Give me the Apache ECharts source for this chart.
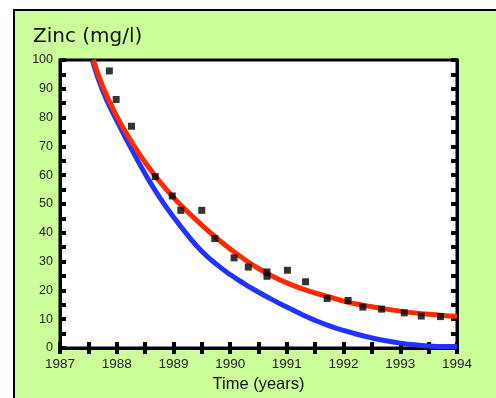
<!DOCTYPE html>
<html>
<head>
<meta charset="utf-8">
<script src="https://cdn.jsdelivr.net/npm/echarts@6/dist/echarts.min.js"></script>
<style>
html, body { margin: 0; padding: 0; background: #fff; }
#main { width: 496px; height: 398px; }
</style>
</head>
<body>
<div id="main"></div>
<script>
// measured zinc values
var measured = [
    [1987.87, 96.2], [1987.99, 86.3], [1988.26, 77.0], [1988.68, 59.5],
    [1988.98, 52.8], [1989.13, 47.8], [1989.50, 47.8], [1989.73, 38.0],
    [1990.07, 31.3], [1990.32, 28.1], [1990.65, 26.4], [1990.65, 24.9],
    [1991.01, 27.0], [1991.33, 23.0], [1991.71, 17.2], [1992.08, 16.5],
    [1992.34, 14.2], [1992.67, 13.5], [1993.07, 12.2], [1993.37, 11.1],
    [1993.71, 10.9]
];

// red curve
var redCurve = [
    [1987.59, 100], [1987.75, 91], [1988.0, 80.5], [1988.25, 72], [1988.5, 64.5],
    [1988.75, 58], [1989.0, 52.3], [1989.25, 47.3], [1989.5, 42.7], [1989.75, 38.4],
    [1990.0, 34.4], [1990.25, 30.8], [1990.5, 27.6], [1990.75, 24.9], [1991.0, 22.6],
    [1991.25, 20.7], [1991.5, 19.1], [1991.75, 17.7], [1992.0, 16.3], [1992.25, 15.2],
    [1992.5, 14.3], [1992.75, 13.5], [1993.0, 12.8], [1993.25, 12.2], [1993.5, 11.7],
    [1993.75, 11.3], [1994.0, 11.0]
];

// blue curve
var blueCurve = [
    [1987.57, 100], [1987.75, 89.5], [1988.0, 79], [1988.25, 69.5], [1988.5, 60.5],
    [1988.75, 52.5], [1989.0, 45.5], [1989.25, 39.2], [1989.5, 33.6], [1989.75, 29.2],
    [1990.0, 25.5], [1990.25, 22.3], [1990.5, 19.4], [1990.75, 16.7], [1991.0, 14.2],
    [1991.25, 11.8], [1991.5, 9.6], [1991.75, 7.7], [1992.0, 6.1], [1992.25, 4.7],
    [1992.5, 3.5], [1992.75, 2.5], [1993.0, 1.7], [1993.25, 1.1], [1993.5, 0.7],
    [1993.75, 0.5], [1994.0, 0.5]
];

var tickStyle = { color: '#000', width: 4 };

var myChart = echarts.init(document.getElementById('main'));
var option = {
    animation: false,
    graphic: [
        {
            type: 'rect',
            z: -10,
            shape: { x: 14, y: 10, width: 520, height: 420 },
            style: { fill: '#ccff99', stroke: '#000', lineWidth: 2 }
        }
    ],
    title: {
        text: 'Zinc (mg/l)',
        left: 28,
        top: 22,
        textStyle: { fontFamily: 'DejaVu Sans', fontSize: 20, fontWeight: 'normal', color: '#111' }
    },
    grid: {
        left: 60, right: 39, top: 60, bottom: 45,
        show: true,
        backgroundColor: '#fff',
        borderColor: '#000',
        borderWidth: 3
    },
    xAxis: [
        {
            type: 'value',
            min: 1987, max: 1994, interval: 1,
            name: 'Time (years)',
            nameLocation: 'middle',
            nameGap: 28,
            nameTextStyle: { fontFamily: 'Liberation Sans', fontSize: 16.5, color: '#111' },
            axisLine: { lineStyle: { color: '#000', width: 3 } },
            axisTick: { inside: true, length: 6, lineStyle: tickStyle },
            minorTick: { show: true, splitNumber: 2, length: 6, lineStyle: tickStyle },
            axisLabel: {
                fontFamily: 'Liberation Sans', fontSize: 13.5, color: '#222', margin: 9,
                formatter: function (v) { return String(v); }
            },
            splitLine: { show: false }
        },
        {
            type: 'value',
            position: 'top',
            min: 1987, max: 1994, interval: 1,
            axisLine: { lineStyle: { color: '#000', width: 3 } },
            axisTick: { inside: true, length: 6, lineStyle: tickStyle },
            minorTick: { show: true, splitNumber: 2, length: 6, lineStyle: tickStyle },
            axisLabel: { show: false },
            splitLine: { show: false }
        }
    ],
    yAxis: [
        {
            type: 'value',
            min: 0, max: 100, interval: 10,
            axisLine: { show: true, lineStyle: { color: '#000', width: 3 } },
            axisTick: { show: true, inside: true, length: 6, lineStyle: tickStyle },
            minorTick: { show: true, splitNumber: 2, length: 6, lineStyle: tickStyle },
            axisLabel: { fontFamily: 'Liberation Sans', fontSize: 12.5, color: '#222', margin: 7 },
            splitLine: { show: false }
        },
        {
            type: 'value',
            position: 'right',
            min: 0, max: 100, interval: 10,
            axisLine: { show: true, lineStyle: { color: '#000', width: 3 } },
            axisTick: { show: true, inside: true, length: 6, lineStyle: tickStyle },
            minorTick: { show: true, splitNumber: 2, length: 6, lineStyle: tickStyle },
            axisLabel: { show: false },
            splitLine: { show: false }
        }
    ],
    series: [
        {
            type: 'line',
            data: blueCurve,
            smooth: true,
            showSymbol: false,
            lineStyle: { color: '#2233ff', width: 5 },
            z: 3
        },
        {
            type: 'line',
            data: redCurve,
            smooth: true,
            showSymbol: false,
            lineStyle: { color: '#ff2a00', width: 5 },
            z: 4
        },
        {
            type: 'scatter',
            data: measured,
            symbol: 'rect',
            symbolSize: 7,
            itemStyle: { color: '#000' },
            z: 5
        }
    ]
};
myChart.setOption(option);
</script>
</body>
</html>
